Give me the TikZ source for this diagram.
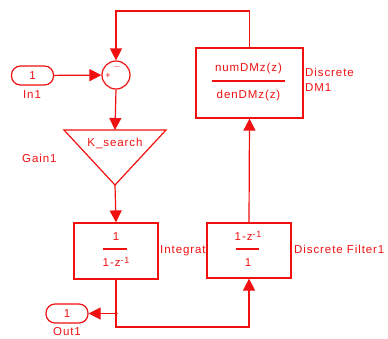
\documentclass[tikz,border=0pt]{standalone}
\usepackage{fontspec}
\setmainfont{Liberation Sans}[LetterSpace=8]
\usetikzlibrary{calc, arrows.meta}
\definecolor{SimRed}{HTML}{F01010}

\begin{document}
\begin{tikzpicture}[x=1pt, y=-1pt, font=\fontsize{11.5}{13}\selectfont,
    every node/.style={text=SimRed, inner sep=0pt},
    blockbox/.style={draw=SimRed, fill=white, line width=1.2pt},
    port/.style={draw=SimRed, fill=white, line width=1.2pt, rounded corners=9pt, minimum width=42pt, minimum height=19pt},
    sig/.style={draw=SimRed, line width=1.2pt, -{Triangle[length=12pt, width=12pt]}},
    wire/.style={draw=SimRed, line width=1.2pt}]
    \useasboundingbox (0,0) rectangle (388,338);

    % ports
    \node[port] (in1) at (32.5,75.5) {1};
    \node at (32,95) {In1};
    \node[port] (out1) at (67,313.5) {1};
    \node at (67,332) {Out1};

    % sum
    \node[draw=SimRed, line width=1.2pt, circle, minimum size=28pt] (sum) at (116,75) {};
    \node at (108,76) {\fontsize{9}{10}\selectfont +};
    \node at (117,67) {\fontsize{10}{10}\selectfont $-$};

    % gain
    \coordinate (gaintop) at (115,130);
    \coordinate (gainapex) at (115,185);
    \draw[wire] (64,130) -- (166,130) -- (gainapex) -- cycle;
    \node at (115,143) {K\_search};
    \node[anchor=west] at (22,158) {Gain1};

    % integrator
    \node[anchor=west] at (160,251) {Integrator};
    \node[blockbox, minimum width=84pt, minimum height=56pt] (integ) at (116,251) {};
    \node at (116,237) {1};
    \draw[wire] (103,249) -- (127,249);
    \node at (116,262) {1-z\raisebox{0.45ex}{\fontsize{9}{10}\selectfont -1}};

    % discrete filter
    \node[blockbox, minimum width=84pt, minimum height=55pt] (filt) at (249,250.5) {};
    \node at (248,236) {1-z\raisebox{0.45ex}{\fontsize{9}{10}\selectfont -1}};
    \draw[wire] (236,249) -- (259,249);
    \node at (248,263) {1};
    \node[anchor=west] at (294,249) {Discrete Filter1};

    % discrete DM
    \node[blockbox, minimum width=107pt, minimum height=70pt] (dm) at (249.5,83) {};
    \node at (248.5,69) {numDMz(z)};
    \draw[wire] (212,81) -- (285,81);
    \node at (248.5,96) {denDMz(z)};
    \node[anchor=west] at (305,72) {Discrete};
    \node[anchor=west] at (305,88) {DM1};

    % signals
    \coordinate (top) at (0,11);
    \coordinate (bot) at (0,327);
    \coordinate (split) at (integ.south |- out1);
    \draw[sig] (in1) -- (sum);
    \draw[sig] (dm.north) -- (dm.north |- top) -| (sum.north);
    \draw[sig] (sum.south) -- (gaintop);
    \draw[sig] (gainapex) -- (integ.north);
    \draw[sig] (integ.south) -- (integ.south |- bot) -| (filt.south);
    \draw[sig] (split) -- (out1.east);
    \fill[SimRed] (split) circle (1.8pt);
    \draw[sig] (filt.north) -- (dm.south);
\end{tikzpicture}
\end{document}
